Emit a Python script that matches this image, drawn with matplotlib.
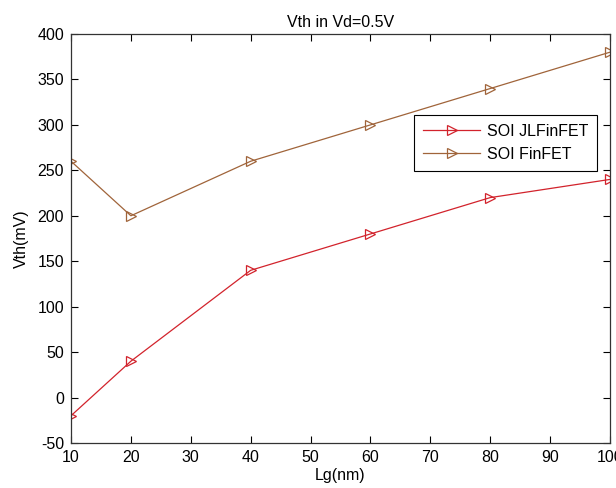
import matplotlib
matplotlib.use("Agg")
import matplotlib.pyplot as plt

plt.rcParams["font.family"] = ["Liberation Sans", "DejaVu Sans"]
plt.rcParams["axes.unicode_minus"] = False

# Gate length (nm) and threshold voltage (mV) at Vd = 0.5 V
lg_nm = [10, 20, 40, 60, 80, 100]
vth_jlfinfet = [-20, 40, 140, 180, 220, 240]
vth_finfet = [260, 200, 260, 300, 340, 380]

W, H = 616, 488
fig = plt.figure(figsize=(W / 100, H / 100), dpi=100)
ax = fig.add_axes([71 / W, 1 - 443 / H, 539 / W, 409 / H])

ax.plot(lg_nm, vth_jlfinfet, color="#d2232c", linewidth=0.9,
        marker=">", markersize=7, markerfacecolor="none",
        markeredgewidth=0.9, label="SOI JLFinFET")
ax.plot(lg_nm, vth_finfet, color="#a0643a", linewidth=0.9,
        marker=">", markersize=7, markerfacecolor="none",
        markeredgewidth=0.9, label="SOI FinFET")

ax.set_xlim(10, 100)
ax.set_ylim(-50, 400)
ax.set_xticks(range(10, 101, 10))
ax.set_yticks(range(-50, 401, 50))
ax.tick_params(direction="in", top=True, right=True, labelsize=11.5,
               length=5, width=0.8, pad=5)
for s in ax.spines.values():
    s.set_linewidth(0.9)
    s.set_color("#333333")

ax.set_xlabel("Lg(nm)", fontsize=11.5, labelpad=2)
ax.set_ylabel("Vth(mV)", fontsize=11.5, labelpad=6)
ax.set_title("Vth in Vd=0.5V", fontsize=11.5, pad=5)

# legend box sits inside the upper right part of the axes
leg = ax.legend(loc="upper left", bbox_to_anchor=(414 / W, 1 - 115 / H),
                bbox_transform=fig.transFigure,
                fontsize=11.5, fancybox=False, framealpha=1,
                edgecolor="black", borderpad=0.55, handlelength=3.6,
                handletextpad=0.4, labelspacing=0.5, borderaxespad=0)
leg.get_frame().set_linewidth(0.8)

fig.savefig("out.png", dpi=100)
